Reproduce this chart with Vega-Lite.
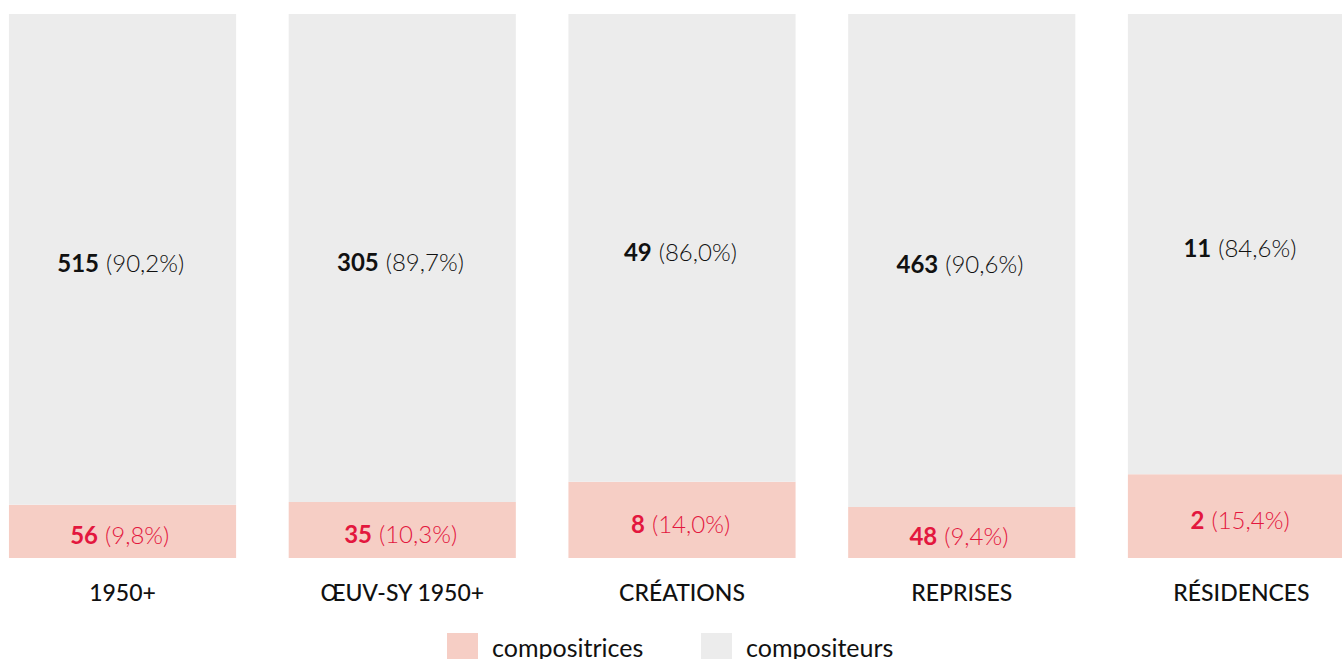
{
  "$schema": "https://vega.github.io/schema/vega-lite/v6.json",
  "width": 1342,
  "height": 544,
  "autosize": {"type": "none"},
  "padding": {"left": 0, "top": 14, "right": 0, "bottom": 101},
  "background": "white",
  "config": {"view": {"stroke": null}, "font": "Lato"},
  "data": {
    "values": [
      {"cat": "1950+", "gender": "compositrices", "order": 1, "count": 56},
      {"cat": "1950+", "gender": "compositeurs", "order": 2, "count": 515},
      {"cat": "ŒUV-SY 1950+", "gender": "compositrices", "order": 1, "count": 35},
      {"cat": "ŒUV-SY 1950+", "gender": "compositeurs", "order": 2, "count": 305},
      {"cat": "CRÉATIONS", "gender": "compositrices", "order": 1, "count": 8},
      {"cat": "CRÉATIONS", "gender": "compositeurs", "order": 2, "count": 49},
      {"cat": "REPRISES", "gender": "compositrices", "order": 1, "count": 48},
      {"cat": "REPRISES", "gender": "compositeurs", "order": 2, "count": 463},
      {"cat": "RÉSIDENCES", "gender": "compositrices", "order": 1, "count": 2},
      {"cat": "RÉSIDENCES", "gender": "compositeurs", "order": 2, "count": 11}
    ]
  },
  "transform": [
    {"joinaggregate": [{"op": "sum", "field": "count", "as": "total"}], "groupby": ["cat"]},
    {"stack": "count", "groupby": ["cat"], "sort": [{"field": "order", "order": "ascending"}], "offset": "normalize", "as": ["y0", "y1"]},
    {"calculate": "(datum.y0 + datum.y1) / 2", "as": "mid"},
    {"calculate": "'(' + replace(format(datum.count / datum.total * 100, '.1f'), '.', ',') + '%)'", "as": "pct"},
    {"calculate": "toString(datum.count)", "as": "num"}
  ],
  "encoding": {
    "x": {
      "field": "cat",
      "type": "nominal",
      "sort": ["1950+", "ŒUV-SY 1950+", "CRÉATIONS", "REPRISES", "RÉSIDENCES"],
      "scale": {"range": [0, 1364], "paddingInner": 0.188, "paddingOuter": 0.032},
      "axis": {
        "title": null,
        "domain": false,
        "ticks": false,
        "labelAngle": 0,
        "labelFontSize": 23,
        "labelFontWeight": 500,
        "labelColor": "#111111",
        "labelPadding": 24
      }
    }
  },
  "layer": [
    {
      "mark": {"type": "bar"},
      "encoding": {
        "y": {"field": "y0", "type": "quantitative", "scale": {"domain": [0, 1]}, "axis": null},
        "y2": {"field": "y1"},
        "color": {
          "field": "gender",
          "type": "nominal",
          "sort": ["compositrices", "compositeurs"],
          "scale": {"domain": ["compositrices", "compositeurs"], "range": ["#F6CEC5", "#ECECEC"]},
          "legend": {
            "title": null,
            "orient": "none",
            "legendX": 447,
            "legendY": 619,
            "direction": "horizontal",
            "symbolType": "square",
            "symbolSize": 961,
            "symbolStrokeWidth": 0,
            "labelFontSize": 25,
            "labelColor": "#111111",
            "labelOffset": 14,
            "columnPadding": 57
          }
        }
      }
    },
    {
      "mark": {
        "type": "text",
        "align": "right",
        "baseline": "middle",
        "fontSize": 24,
        "fontWeight": "bold",
        "dy": 6,
        "dx": {"expr": "length(datum.num) * 13.5 - (length(datum.num) * 13.5 + 7 + length(datum.pct) * 11.5) / 2"}
      },
      "encoding": {
        "y": {"field": "mid", "type": "quantitative"},
        "text": {"field": "num"},
        "color": {
          "condition": {"test": "datum.gender === 'compositrices'", "value": "#E3173E"},
          "value": "#111111"
        }
      }
    },
    {
      "mark": {
        "type": "text",
        "align": "left",
        "baseline": "middle",
        "fontSize": 24,
        "fontWeight": 300,
        "dy": 6,
        "dx": {"expr": "length(datum.num) * 13.5 + 7 - (length(datum.num) * 13.5 + 7 + length(datum.pct) * 11.5) / 2"}
      },
      "encoding": {
        "y": {"field": "mid", "type": "quantitative"},
        "text": {"field": "pct"},
        "color": {
          "condition": {"test": "datum.gender === 'compositrices'", "value": "#E3173E"},
          "value": "#111111"
        }
      }
    }
  ]
}
